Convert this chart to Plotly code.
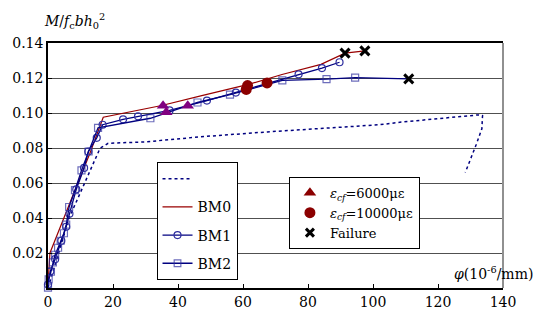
import plotly.graph_objects as go

# ---- data ----
dot_x = [0, 6.5, 16, 18.5, 30, 47, 67.5, 102, 108.7, 121.5, 125.6, 132.3, 133.7, 133.5, 131.7, 129.6, 128.4]
dot_y = [0, 0.040, 0.0798, 0.0827, 0.0835, 0.0864, 0.0892, 0.0933, 0.0948, 0.0970, 0.0981, 0.0989, 0.0985, 0.0910, 0.0817, 0.0723, 0.0660]

bm0_x = [0, 0.6, 7.8, 12.9, 17.0, 35.0, 47.0, 62.0, 72.0, 84.0, 91.4, 97.5]
bm0_y = [0.002, 0.020, 0.0536, 0.0770, 0.0976, 0.1043, 0.1098, 0.1165, 0.1220, 0.1278, 0.1342, 0.1355]

bm1_x = [0, 0.7, 2.2, 4.1, 5.6, 6.6, 8.7, 11.1, 12.4, 15.0, 16.8, 23.1, 27.7, 37.4, 48.9, 57.8, 77.1, 84.3, 89.7]
bm1_y = [0.002, 0.0095, 0.0165, 0.0270, 0.0350, 0.0424, 0.0564, 0.0686, 0.0780, 0.0858, 0.0933, 0.0964, 0.0981, 0.1015, 0.1071, 0.1117, 0.1221, 0.1257, 0.1290]

bm2_x = [0, 0.2, 0.9, 1.5, 2.2, 3.1, 3.9, 4.9, 5.6, 6.5, 8.3, 10.3, 12.5, 15.4, 31.5, 46.0, 56.0, 72.1, 85.7, 94.5, 111.0]
bm2_y = [0.0002, 0.0049, 0.0093, 0.0146, 0.0190, 0.0230, 0.0270, 0.0313, 0.0362, 0.0463, 0.0559, 0.0672, 0.0780, 0.0915, 0.0970, 0.1060, 0.1105, 0.1186, 0.1194, 0.1202, 0.1195]

tri_x = [35.4, 36.4, 43.0]
tri_y = [0.1042, 0.1005, 0.1042]

cir_x = [61.4, 61.0, 67.4]
cir_y = [0.1157, 0.1135, 0.1172]

fail_x = [91.4, 97.5, 111.0]
fail_y = [0.1342, 0.1355, 0.1195]

x_ticks = [0, 20, 40, 60, 80, 100, 120, 140]
y_ticks = [0.02, 0.04, 0.06, 0.08, 0.10, 0.12, 0.14]

FONT = "DejaVu Serif"
FS = 14
NAVY = "#000080"
BLUE = "#3030A0"
DRED = "#8B0000"

fig = go.Figure()

fig.add_trace(go.Scatter(x=dot_x, y=dot_y, mode="lines", name=" ",
                         line=dict(color=NAVY, width=1.5, dash="dot"),
                         legend="legend", legendgroup="g0"))
fig.add_trace(go.Scatter(x=bm0_x, y=bm0_y, mode="lines", name="BM0",
                         line=dict(color="#990000", width=1.2),
                         legend="legend", legendgroup="g1"))
fig.add_trace(go.Scatter(x=bm1_x, y=bm1_y, mode="lines+markers", name="BM1",
                         line=dict(color=NAVY, width=1.3),
                         marker=dict(symbol="circle-open", size=7, color=BLUE, line=dict(width=1.2)),
                         cliponaxis=False, legend="legend", legendgroup="g2"))
bm2_sizes = [7] * (len(bm2_x) - 1) + [0]
fig.add_trace(go.Scatter(x=bm2_x, y=bm2_y, mode="lines+markers", name="BM2",
                         line=dict(color=NAVY, width=1.3),
                         marker=dict(symbol="square-open", size=bm2_sizes, color=BLUE, line=dict(width=1.2)),
                         cliponaxis=False, legend="legend", legendgroup="g3"))

# markers on the curves
fig.add_trace(go.Scatter(x=tri_x, y=tri_y, mode="markers", showlegend=False,
                         marker=dict(symbol="triangle-up", size=11, color="#800080")))
fig.add_trace(go.Scatter(x=cir_x, y=cir_y, mode="markers", showlegend=False,
                         marker=dict(symbol="circle", size=11, color=DRED)))
fig.add_trace(go.Scatter(x=fail_x, y=fail_y, mode="markers", showlegend=False,
                         marker=dict(symbol="x-thin", size=9, color="black",
                                     line=dict(width=3, color="black"))))

# legend entries for the second legend
fig.add_trace(go.Scatter(x=[None], y=[None], mode="markers",
                         name="<i>ε</i><sub><i>cf</i></sub>=6000με",
                         marker=dict(symbol="triangle-up", size=11, color=DRED), legend="legend2"))
fig.add_trace(go.Scatter(x=[None], y=[None], mode="markers",
                         name="<i>ε</i><sub><i>cf</i></sub>=10000με",
                         marker=dict(symbol="circle", size=11, color=DRED), legend="legend2"))
fig.add_trace(go.Scatter(x=[None], y=[None], mode="markers", name="Failure",
                         marker=dict(symbol="x-thin", size=8, color="black",
                                     line=dict(width=3, color="black")), legend="legend2"))

fig.update_layout(
    width=534, height=322,
    margin=dict(l=46, r=31, t=43, b=30),
    paper_bgcolor="white", plot_bgcolor="white",
    font=dict(family=FONT, size=FS, color="black"),
    showlegend=True,
    legend=dict(x=0.2385, y=0.514, xanchor="left", yanchor="top",
                bgcolor="white", bordercolor="black", borderwidth=1, tracegroupgap=7),
    legend2=dict(x=0.5295, y=0.4538, xanchor="left", yanchor="top",
                 bgcolor="white", bordercolor="black", borderwidth=1,
                 font=dict(family=FONT, size=13)),
    xaxis=dict(range=[0, 140], tickvals=x_ticks, ticktext=[str(v) for v in x_ticks],
               ticks="inside", ticklen=4, tickcolor="black",
               showline=True, linecolor="black", linewidth=1.5, mirror=True,
               showgrid=False, zeroline=False),
    yaxis=dict(range=[0, 0.14], tickvals=y_ticks, ticktext=[f"{v:.2f}" for v in y_ticks],
               ticks="inside", ticklen=4, tickcolor="black",
               showline=True, linecolor="black", linewidth=1.5,
               showgrid=True, gridcolor="#505050", gridwidth=1.3,
               zeroline=False),
    shapes=[dict(type="line", xref="paper", yref="paper", x0=1, x1=1, y0=0, y1=1,
                 line=dict(color="#909090", width=2))],
    annotations=[
        dict(text="<i>M</i>/<i>f</i><sub>c</sub><i>bh</i><sub>0</sub><sup>2</sup>",
             xref="paper", yref="paper", x=-0.013, y=1.04, xanchor="left", yanchor="bottom",
             showarrow=False),
        dict(text="<i>φ</i>(10<sup>-6</sup>/mm)",
             xref="paper", yref="paper", x=0.888, y=0.06, xanchor="left", yanchor="middle",
             showarrow=False),
    ],
)

fig.write_html("out.html")
